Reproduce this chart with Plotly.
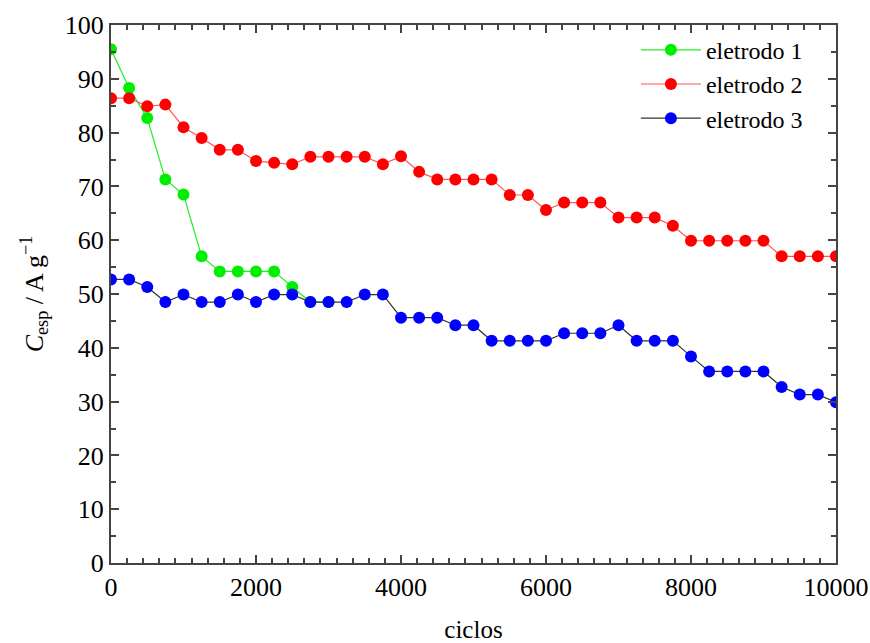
import plotly.graph_objects as go

# Cycle numbers (every 250 cycles)
ciclos_1 = [0, 250, 500, 750, 1000, 1250, 1500, 1750, 2000, 2250, 2500, 2750, 3000]
ciclos_23 = [i * 250 for i in range(41)]

# Specific capacitance (A g^-1)
eletrodo_1 = [95.5, 88.3, 82.7, 71.3, 68.5, 57.0, 54.2, 54.2, 54.2, 54.2, 51.3, 48.5, 48.5]
eletrodo_2 = [86.4, 86.4, 84.9, 85.2, 81.0, 79.0, 76.8, 76.8, 74.7, 74.4, 74.1, 75.5, 75.5,
              75.5, 75.5, 74.1, 75.6, 72.7, 71.3, 71.3, 71.3, 71.3, 68.4, 68.4, 65.6,
              67.0, 67.0, 67.0, 64.2, 64.2, 64.2, 62.7, 59.9, 59.9, 59.9, 59.9, 59.9,
              57.0, 57.0, 57.0, 57.0]
eletrodo_3 = [52.7, 52.7, 51.3, 48.5, 49.9, 48.5, 48.5, 49.9, 48.5, 49.9, 49.9, 48.5, 48.5,
              48.5, 49.9, 49.9, 45.6, 45.6, 45.6, 44.2, 44.2, 41.3, 41.3, 41.3, 41.3,
              42.7, 42.7, 42.7, 44.2, 41.3, 41.3, 41.3, 38.4, 35.6, 35.6, 35.6, 35.6,
              32.7, 31.3, 31.3, 29.9]

FONT = "Liberation Serif"

fig = go.Figure()
fig.add_trace(go.Scatter(x=ciclos_1, y=eletrodo_1, mode="lines+markers", name="eletrodo 1",
                         line=dict(color="#22ee22", width=1.2),
                         marker=dict(color="#00ee00", size=12)))
fig.add_trace(go.Scatter(x=ciclos_23, y=eletrodo_2, mode="lines+markers", name="eletrodo 2",
                         line=dict(color="#ff5555", width=1.2),
                         marker=dict(color="#ff0000", size=12)))
fig.add_trace(go.Scatter(x=ciclos_23, y=eletrodo_3, mode="lines+markers", name="eletrodo 3",
                         line=dict(color="#333333", width=1.2),
                         marker=dict(color="#0000ff", size=12)))

axis_common = dict(showline=True, linecolor="#444444", linewidth=2, mirror="ticks",
                   ticks="inside", ticklen=8, tickwidth=2, tickcolor="#444444",
                   showgrid=False, zeroline=False, automargin=False,
                   tickfont=dict(family=FONT, size=26, color="black"))

fig.update_xaxes(range=[0, 10000], tick0=0, dtick=2000, tickformat="d",
                 minor=dict(ticks="inside", ticklen=5, tickwidth=1.5, tickcolor="#444444",
                            tick0=0, dtick=2000 / 9),
                 title=dict(text="ciclos", font=dict(family=FONT, size=25, color="black"), standoff=40),
                 **axis_common)
fig.update_yaxes(range=[0, 100], tick0=0, dtick=10,
                 minor=dict(ticks="inside", ticklen=5, tickwidth=1.5, tickcolor="#444444", dtick=5),
                 title=dict(text="<i>C</i><sub>esp</sub> / A g<sup>−1</sup>",
                            font=dict(family=FONT, size=26, color="black"), standoff=14),
                 **axis_common)

fig.update_layout(
    width=870, height=643,
    margin=dict(l=111, r=34, t=25, b=80),
    plot_bgcolor="white", paper_bgcolor="white",
    font=dict(family=FONT),
    legend=dict(x=0.724, y=0.995, xanchor="left", yanchor="top",
                bgcolor="rgba(0,0,0,0)", font=dict(family=FONT, size=24, color="black"),
                itemwidth=60, tracegroupgap=0),
    showlegend=True,
)

fig.write_html("out.html")
